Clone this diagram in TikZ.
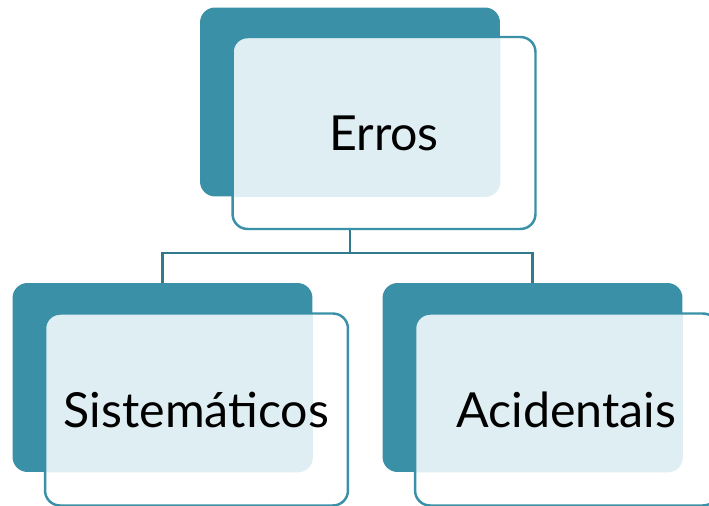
\documentclass[tikz,border=0pt]{standalone}
\usepackage{fontspec}
\setmainfont{Lato}
\usepackage{tikz}
\definecolor{tealbox}{RGB}{58,144,166}
\definecolor{dotfill}{RGB}{222,238,243}
\tikzset{
  backbox/.style={rectangle, rounded corners=0.3cm, fill=tealbox, minimum width=6cm, minimum height=3.78cm, inner sep=0pt},
  frontbox/.style={rectangle, rounded corners=0.3cm, fill=white, draw=tealbox, line width=1.4pt, minimum width=6.06cm, minimum height=3.84cm, inner sep=0pt, font=\fontsize{27.5}{32}\selectfont},
  link/.style={draw=tealbox!85!black, line width=1.3pt}
}

\begin{document}
\begin{tikzpicture}[x=0.02cm, y=-0.02cm]
  \useasboundingbox (0,0) rectangle (709,506);
  % back boxes
  \node[backbox] (errosback) at (350,102) {};
  \node[backbox] (sistback) at (162.5,377.5) {};
  \node[backbox] (acidback) at (532.5,377.5) {};
  % connectors
  \coordinate (fork) at (350,253);
  \draw[link] (errosback.south) -- (fork) -| (sistback.north);
  \draw[link] (fork) -| (acidback.north);
  % front boxes
  \node[frontbox, path picture={\fill[dotfill, rounded corners=0.3cm] (errosback.south west) rectangle (errosback.north east);}] (erros) at (384,133) {Erros};
  \node[frontbox, path picture={\fill[dotfill, rounded corners=0.3cm] (sistback.south west) rectangle (sistback.north east);}] (sist) at (196.5,409.5) {Sistemáticos};
  \node[frontbox, path picture={\fill[dotfill, rounded corners=0.3cm] (acidback.south west) rectangle (acidback.north east);}] (acid) at (566.5,409.5) {Acidentais};
\end{tikzpicture}
\end{document}
